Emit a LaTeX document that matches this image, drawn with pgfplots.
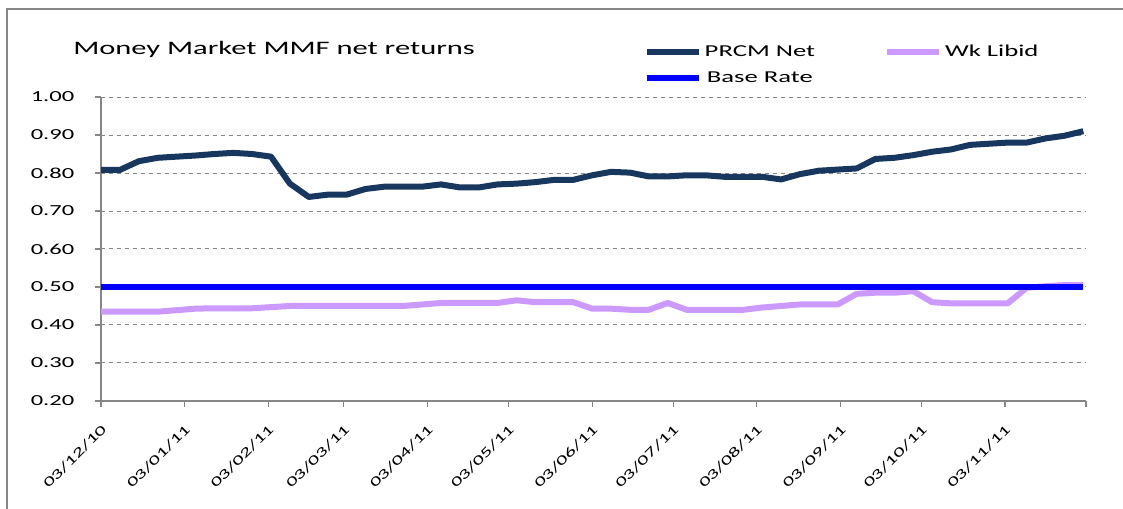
\documentclass[border=0pt]{standalone}
\usepackage{fontspec}
\setmainfont{Carlito}[FakeStretch=1.6]
\usepackage{pgfplots}
\pgfplotsset{compat=1.18}
\usepackage{pgfplotstable}

\definecolor{prcm}{RGB}{23,55,94}
\definecolor{libid}{RGB}{204,153,255}
\definecolor{baserate}{RGB}{0,0,255}
\definecolor{gridgray}{RGB}{134,134,134}

\pgfplotstableread{
x prcm libid base
0 0.808 0.435 0.50
7 0.808 0.435 0.50
14 0.831 0.435 0.50
21 0.840 0.435 0.50
28 0.843 0.439 0.50
35 0.846 0.443 0.50
42 0.850 0.444 0.50
49 0.853 0.444 0.50
56 0.850 0.444 0.50
63 0.843 0.447 0.50
70 0.772 0.450 0.50
77 0.737 0.450 0.50
84 0.743 0.450 0.50
91 0.743 0.450 0.50
98 0.758 0.450 0.50
105 0.764 0.450 0.50
112 0.764 0.450 0.50
119 0.764 0.454 0.50
126 0.770 0.458 0.50
133 0.762 0.458 0.50
140 0.762 0.458 0.50
147 0.770 0.458 0.50
154 0.772 0.465 0.50
161 0.776 0.460 0.50
168 0.782 0.460 0.50
175 0.782 0.460 0.50
182 0.794 0.443 0.50
189 0.803 0.443 0.50
196 0.801 0.440 0.50
203 0.791 0.440 0.50
210 0.791 0.458 0.50
217 0.794 0.440 0.50
224 0.794 0.440 0.50
231 0.790 0.440 0.50
238 0.790 0.440 0.50
245 0.790 0.446 0.50
252 0.783 0.450 0.50
259 0.797 0.454 0.50
266 0.806 0.454 0.50
273 0.809 0.454 0.50
280 0.812 0.482 0.50
287 0.837 0.485 0.50
294 0.840 0.485 0.50
301 0.847 0.489 0.50
308 0.856 0.460 0.50
315 0.862 0.457 0.50
322 0.874 0.457 0.50
329 0.877 0.457 0.50
336 0.880 0.457 0.50
343 0.880 0.498 0.50
350 0.891 0.502 0.50
357 0.898 0.505 0.50
364 0.910 0.505 0.50
}\datatable

\begin{document}
\begin{tikzpicture}
\useasboundingbox (0pt,0pt) rectangle (842.25pt,381.75pt);
\draw[gridgray, line width=0.9pt] (5.25pt,-5pt) -- (5.25pt,375pt) -- (850pt,375pt);
\node[anchor=base west, inner sep=0pt, font=\fontsize{14.3}{16}\selectfont] at (54.75pt,340.5pt) {Money Market MMF  net returns};
\begin{axis}[
  at={(75.75pt,81pt)}, anchor=south west,
  scale only axis, width=738.75pt, height=228pt,
  xmin=0, xmax=365, ymin=0.2, ymax=1.0,
  axis lines*=left,
  axis line style={gridgray, line width=0.9pt},
  xtick={0,31,62,90,121,151,182,212,243,274,304,335,365},
  xticklabels={03/12/10,03/01/11,03/02/11,03/03/11,03/04/11,03/05/11,03/06/11,03/07/11,03/08/11,03/09/11,03/10/11,03/11/11,},
  ytick={0.2,0.3,0.4,0.5,0.6,0.7,0.8,0.9,1.0},
  yticklabel style={/pgf/number format/fixed, /pgf/number format/fixed zerofill, /pgf/number format/precision=2, /pgf/number format/assume math mode=true, font=\fontsize{11.5}{13}\selectfont, xshift=-12pt},
  xticklabel style={rotate=45, anchor=east, font=\fontsize{10.2}{12}\selectfont, xshift=-5.5pt, yshift=-12.3pt},
  tick align=outside, major tick length=4.5pt,
  tick style={gridgray, line width=0.9pt},
  ymajorgrids, major grid style={dashed, gridgray, line width=0.75pt},
  legend columns=2,
  legend style={draw=none, fill=none, at={(0.547,1.19)}, anchor=north west,
    font=\fontsize{12.5}{14}\selectfont, row sep=6pt,
    /tikz/every even column/.append style={column sep=50pt}},
  legend image code/.code={\draw[#1] (0pt,0pt) -- (39pt,0pt);},
  clip=false,
]
\addplot[prcm, line width=4.5pt, line join=round] table[x=x, y=prcm] {\datatable};
\addlegendentry{PRCM Net}
\addplot[libid, line width=4.5pt, line join=round] table[x=x, y=libid] {\datatable};
\addlegendentry{Wk Libid}
\addplot[baserate, line width=4pt, line join=round] table[x=x, y=base] {\datatable};
\addlegendentry{Base Rate}
\end{axis}
\end{tikzpicture}
\end{document}
